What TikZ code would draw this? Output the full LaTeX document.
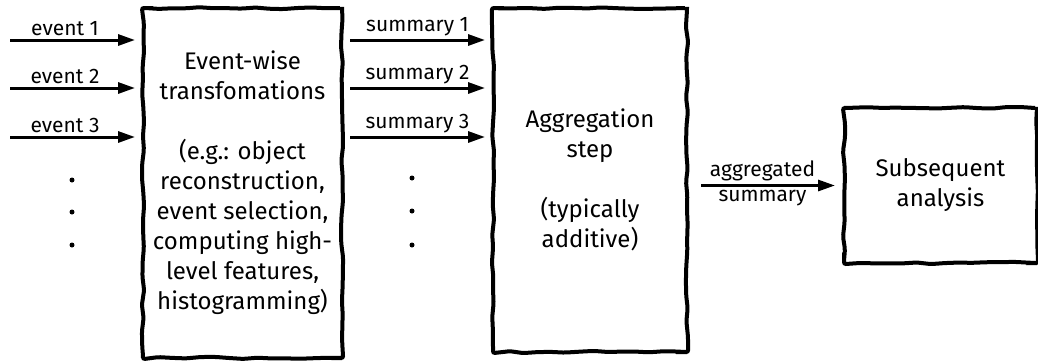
\documentclass[tikz,border=0pt]{standalone}
\usepackage{fontspec}
\setmainfont{Fira Sans}
\usetikzlibrary{arrows.meta, positioning, decorations.pathmorphing}

\tikzset{
  stage/.style={draw, line width=4pt, decorate,
    decoration={random steps, segment length=14pt, amplitude=1.1pt},
    rounded corners=2pt, align=center, inner sep=0pt,
    font=\fontsize{24}{30}\selectfont},
  flow/.style={line width=3pt, -{Triangle[length=17pt,width=11pt]}},
  flowlabel/.style={font=\fontsize{21}{24}\selectfont, inner sep=3pt},
}

\begin{document}
\begin{tikzpicture}[x=1pt, y=-1pt]
\pgfmathsetseed{7}
\useasboundingbox (0,0) rectangle (1038,362);

% the three processing stages
\node [stage, minimum width=199pt, minimum height=350pt] (evt) at (242.5,183)
  {Event-wise\\transfomations\\[30pt](e.g.: object\\reconstruction,\\event selection,\\computing high-\\level features,\\histogramming)};
\node [stage, minimum width=194pt, minimum height=344pt] (agg) at (590,180)
  {Aggregation\\step\\[30pt](typically\\additive)};
\node [stage, minimum width=193pt, minimum height=155pt] (ana) at (940.5,185.5)
  {Subsequent\\analysis};

% incoming events
\coordinate (in1) at (10,40);
\coordinate (in2) at (10,88);
\coordinate (in3) at (10,137);

\draw [flow, shorten >=6pt] (in1) -- (in1 -| evt.west) node [flowlabel, above, pos=0.42] {event 1};
\draw [flow, shorten >=6pt] (in2) -- (in2 -| evt.west) node [flowlabel, above, pos=0.42] {event 2};
\draw [flow, shorten >=6pt] (in3) -- (in3 -| evt.west) node [flowlabel, above, pos=0.42] {event 3};

\fill (72,180) circle [radius=2.5pt];
\fill (72,212) circle [radius=2.5pt];
\fill (72,245) circle [radius=2.5pt];

% per-event summaries
\draw [flow, shorten <=6pt, shorten >=6pt] (in1 -| evt.east) -- (in1 -| agg.west) node [flowlabel, above, midway] {summary 1};
\draw [flow, shorten <=6pt, shorten >=6pt] (in2 -| evt.east) -- (in2 -| agg.west) node [flowlabel, above, midway] {summary 2};
\draw [flow, shorten <=6pt, shorten >=6pt] (in3 -| evt.east) -- (in3 -| agg.west) node [flowlabel, above, midway] {summary 3};

\fill (412,178) circle [radius=2.5pt];
\fill (412,211) circle [radius=2.5pt];
\fill (412,245) circle [radius=2.5pt];

% result of the aggregation
\draw [flow, shorten <=12pt, shorten >=7pt] (agg.east |- ana.west) -- (ana.west)
  node [flowlabel, above, pos=0.48] {aggregated}
  node [flowlabel, below, pos=0.48] {summary};
\end{tikzpicture}
\end{document}
